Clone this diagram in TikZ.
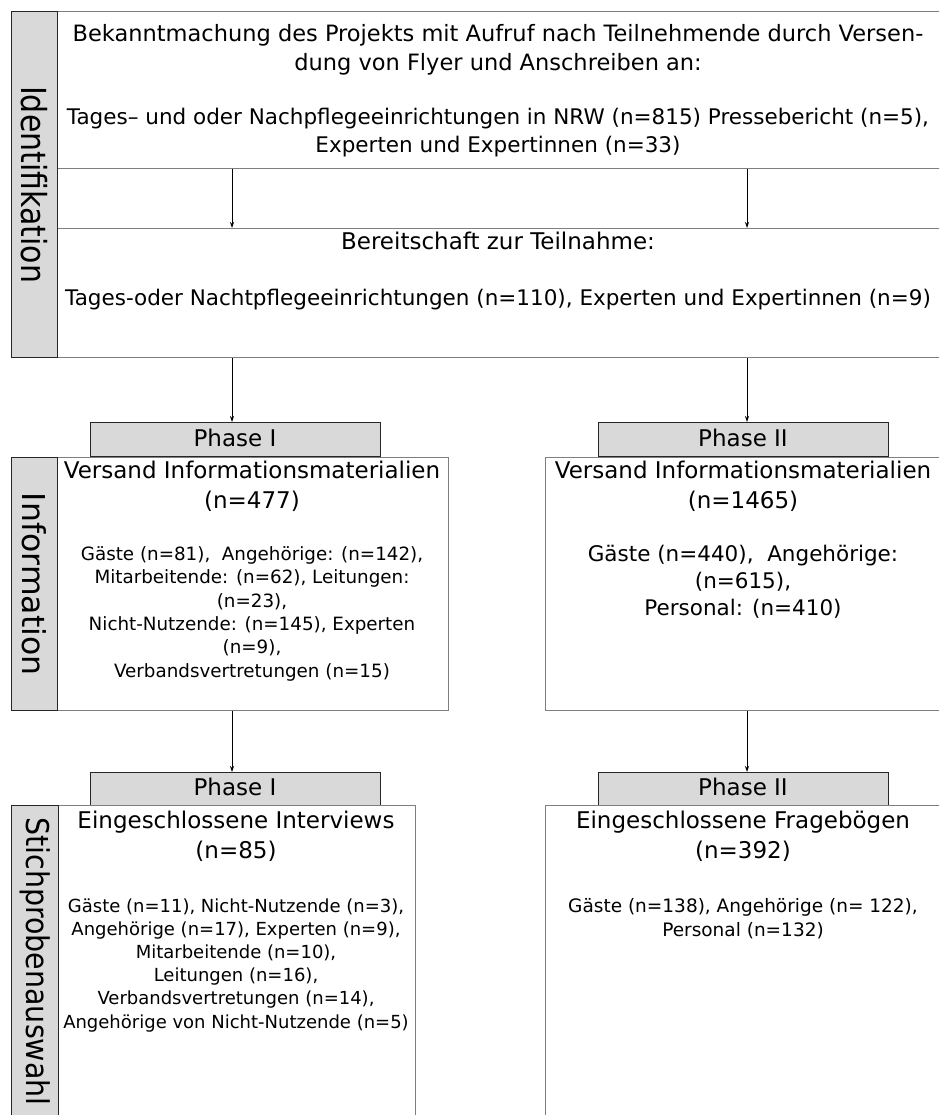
\documentclass[tikz,border=0pt]{standalone}
\usepackage{fontspec}
\setmainfont{DejaVu Sans}
\usetikzlibrary{arrows.meta}
\definecolor{sidegray}{HTML}{D9D9D9}
\definecolor{boxline}{HTML}{7F7F7F}
\definecolor{darkline}{HTML}{262626}
\newcommand{\fs}[2]{\fontsize{#1}{#2}\selectfont}
\begin{document}
\begin{tikzpicture}[x=1pt,y=-1pt,
  box/.style={draw=boxline,line width=1pt,fill=white,rectangle,inner sep=0pt,anchor=north west},
  side/.style={draw=darkline,line width=1.3pt,fill=sidegray,rectangle,inner sep=0pt,anchor=north west},
  phasebox/.style={draw=darkline,line width=1.3pt,fill=sidegray,rectangle,inner sep=0pt,anchor=north west,minimum width=290pt,minimum height=34pt},
  txt/.style={anchor=base,inner sep=0pt,align=center},
  conn/.style={draw=black,line width=0.9pt,-{Stealth[length=6pt,width=4pt]}},
  sidetxt/.style={rotate=-90,inner sep=0pt}
]
\clip (0,0) rectangle (939,1115);
\fill[white] (0,0) rectangle (939,1115);
% identification
\node[box,minimum width=900pt,minimum height=157pt] (b1) at (57,11) {};
\node[box,minimum width=900pt,minimum height=129pt] (b2) at (57,228) {};
\node[side,minimum width=46pt,minimum height=346pt] (s1) at (11,11) {};
\node[sidetxt,font=\fs{30}{34}] (s1t) at (s1.center) {\scalebox{1}[1.15]{Identifikation}};
\node[txt,font=\fs{22.5}{29}] (t1) at (498,71) {Bekanntmachung des Projekts mit Aufruf nach Teilnehmende durch Versen-\\dung von Flyer und Anschreiben an:};
\node[txt,font=\fs{21.5}{28}] (t2) at (498,153) {Tages– und oder Nachpflegeeinrichtungen in NRW (n=815) Pressebericht (n=5),\\Experten und Expertinnen (n=33)};
\node[txt,font=\fs{23}{28}] (t3) at (498,250) {Bereitschaft zur Teilnahme:};
\node[txt,font=\fs{21.5}{28}] (t4) at (498,305) {Tages-oder Nachtpflegeeinrichtungen (n=110), Experten und Expertinnen (n=9)};
% phase boxes 1
\node[phasebox] (p1) at (90,422) {};
\node[txt,font=\fs{23}{28}] at (235,446) {Phase I};
\node[phasebox] (p2) at (598,422) {};
\node[txt,font=\fs{23}{28}] at (743,446) {Phase II};
% information
\node[box,minimum width=391pt,minimum height=253pt] (i1) at (57,457) {};
\node[box,minimum width=400pt,minimum height=253pt] (i2) at (545,457) {};
\node[side,minimum width=46pt,minimum height=253pt] (s2) at (11,457) {};
\node[sidetxt,font=\fs{31.5}{34}] (s2t) at (s2.center) {Information};
\node[txt,font=\fs{23}{30}] at (252,508) {Versand Informationsmaterialien\\(n=477)};
\node[txt,font=\fs{18.3}{23.3}] at (252,677) {Gäste (n=81),\ \ Angehörige: (n=142),\\Mitarbeitende: (n=62), Leitungen:\\(n=23),\\Nicht-Nutzende: (n=145), Experten\\(n=9),\\Verbandsvertretungen (n=15)};
\node[txt,font=\fs{23}{30}] at (743,508) {Versand Informationsmaterialien\\(n=1465)};
\node[txt,font=\fs{21.5}{26.7}] at (743,615) {Gäste (n=440),\ \ Angehörige:\\(n=615),\\Personal: (n=410)};
% phase boxes 2
\node[phasebox,minimum height=33pt] (p3) at (90,772) {};
\node[txt,font=\fs{23}{28}] at (235,795) {Phase I};
\node[phasebox,minimum height=33pt] (p4) at (598,772) {};
\node[txt,font=\fs{23}{28}] at (743,795) {Phase II};
% sample
\node[box,minimum width=357pt,minimum height=330pt] (e1) at (58,805) {};
\node[box,minimum width=400pt,minimum height=330pt] (e2) at (545,805) {};
\node[side,minimum width=47pt,minimum height=330pt] (s3) at (11,805) {};
\node[sidetxt,anchor=west,font=\fs{28.5}{34}] (s3t) at ([yshift=-12pt]s3.north) {\scalebox{1}[1.1]{Stichprobenauswahl}};
\node[txt,font=\fs{23}{30}] at (236,858) {Eingeschlossene Interviews\\(n=85)};
\node[txt,font=\fs{18}{23.2}] at (236,1028) {Gäste (n=11), Nicht-Nutzende (n=3),\\Angehörige (n=17), Experten (n=9),\\Mitarbeitende (n=10),\\Leitungen (n=16),\\Verbandsvertretungen (n=14),\\Angehörige von Nicht-Nutzende (n=5)};
\node[txt,font=\fs{23}{30}] at (743,858) {Eingeschlossene Fragebögen\\(n=392)};
\node[txt,font=\fs{18.5}{23.2}] at (743,936) {Gäste (n=138), Angehörige (n= 122),\\Personal (n=132)};
% connectors
\draw[conn] (b1.south -| 232,0) -- (b2.north -| 232,0);
\draw[conn] (b1.south -| 747,0) -- (b2.north -| 747,0);
\draw[conn] (b2.south -| 232,0) -- (p1.north -| 232,0);
\draw[conn] (b2.south -| 747,0) -- (p2.north -| 747,0);
\draw[conn] (i1.south -| 232,0) -- (p3.north -| 232,0);
\draw[conn] (i2.south -| 747,0) -- (p4.north -| 747,0);
\end{tikzpicture}
\end{document}
